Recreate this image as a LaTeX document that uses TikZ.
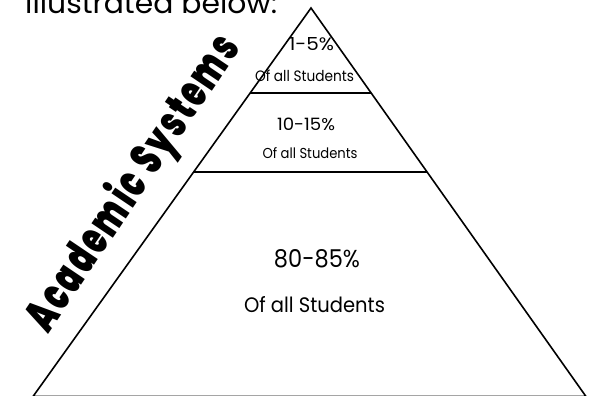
\documentclass[tikz,border=0pt]{standalone}
\usepackage{fontspec}
\setmainfont{Poppins}
\newfontfamily\heavy{Poppins Black}[LetterSpace=8]
\usetikzlibrary{calc}
\newcommand{\fitwh}[3]{\resizebox{#1}{#2}{#3}}
\begin{document}
\begin{tikzpicture}[x=1pt,y=-1pt,
  edge/.style={line width=1.6pt,black},
  lbl/.style={inner sep=0pt,anchor=base,text=black}]
\useasboundingbox (0,0) rectangle (594,396);
\clip (0,0) rectangle (594,396);
\fill[white] (0,0) rectangle (594,396);
% pyramid corners
\coordinate (apex) at (311,8);
\coordinate (bl) at (33,396.5);
\coordinate (br) at (586,396.5);
\draw[edge,line join=miter] (apex) -- (bl) -- (br) -- cycle;
% tier boundaries
\coordinate (l1) at ($(apex)!0.2185!(bl)$);
\coordinate (r1) at ($(apex)!0.2185!(br)$);
\coordinate (l2) at ($(apex)!0.4223!(bl)$);
\coordinate (r2) at ($(apex)!0.4223!(br)$);
\draw[edge] (l1) -- (r1);
\draw[edge] (l2) -- (r2);
% labels
\node[lbl] (t1a) at (311.5,51) {\fitwh{45pt}{13pt}{1-5\%}};
\node[lbl] (t1b) at (304.5,81) {\fitwh{99pt}{11.5pt}{Of all Students}};
\node[lbl] (t2a) at (306,130) {\fitwh{58pt}{12.5pt}{10-15\%}};
\node[lbl] (t2b) at (310,158) {\fitwh{95pt}{11pt}{Of all Students}};
\node[lbl] (t3a) at (317,267) {\fitwh{86pt}{18pt}{80-85\%}};
\node[lbl] (t3b) at (314.5,312) {\fitwh{141pt}{16pt}{Of all Students}};
% side title
\node[inner sep=0pt,rotate=56] (title) at (134,184) {\fitwh{345pt}{38pt}{\heavy Academic\hspace{0.3em}Systems}};
% cut-off heading
\node[inner sep=0pt,anchor=base west] (head) at (25,13) {\fitwh{252pt}{22pt}{illustrated below:}};
\end{tikzpicture}
\end{document}
